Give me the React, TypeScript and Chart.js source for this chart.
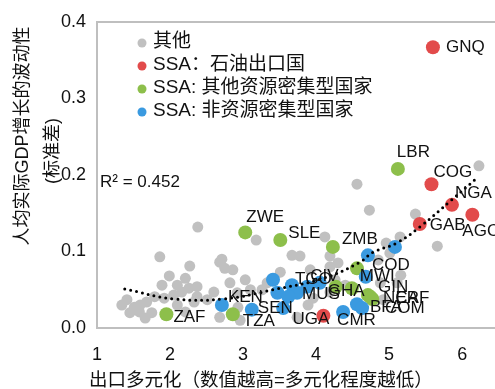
import React, { useEffect, useRef } from 'react';
import { Chart, registerables } from 'chart.js';

Chart.register(...registerables);

// ---- axis ticks ----
const xTicks = [1, 2, 3, 4, 5, 6];
const yTicks = [0, 0.1, 0.2, 0.3, 0.4];
const xMin = 1;
const xMax = 6.45;
const yMin = 0;
const yMax = 0.4;

// ---- series names ----
const seriesNames = ['其他', 'SSA：石油出口国', 'SSA: 其他资源密集型国家', 'SSA: 非资源密集型国家'];
const seriesColors = ['#c0c0c0', '#e24b4b', '#8dbf4b', '#3a9ae0'];

// ---- other (grey) ----
const otherX = [2.38, 4.56, 4.73, 5.36, 6.23, 5.66, 3.18, 4.12, 1.86, 2.71, 3.67, 3.78, 4.19, 5.15, 4.96, 4.85, 5.16, 4.88, 4.92,
  2.27, 2.68, 2.75, 1.99, 2.21, 1.89, 2.10, 2.26, 2.37, 2.60, 1.41, 1.51, 1.59, 1.68, 1.58, 1.79, 1.92, 2.05, 2.16, 2.37,
  2.51, 2.10, 2.33, 2.68, 1.75, 4.19, 2.86, 3.03, 2.82, 3.33, 2.92, 3.10, 3.26, 3.51, 3.92, 2.93, 3.74, 3.89, 3.96, 1.45,
  1.66, 4.30, 4.26, 5.01, 5.11, 2.21, 1.34, 2.96, 4.40, 4.19];
const otherY = [0.132, 0.188, 0.154, 0.149, 0.212, 0.107, 0.115, 0.119, 0.093, 0.090, 0.095, 0.094, 0.094, 0.119, 0.111, 0.089, 0.069, 0.059, 0.037,
  0.081, 0.086, 0.078, 0.068, 0.065, 0.056, 0.056, 0.052, 0.054, 0.047, 0.037, 0.027, 0.030, 0.034, 0.021, 0.041, 0.039, 0.043, 0.047, 0.041,
  0.037, 0.030, 0.034, 0.014, 0.020, 0.080, 0.076, 0.063, 0.059, 0.059, 0.046, 0.050, 0.050, 0.073, 0.076, 0.027, 0.014, 0.030, 0.039, 0.020,
  0.013, 0.085, 0.063, 0.098, 0.059, 0.021, 0.030, 0.010, 0.056, 0.047];

// ---- SSA oil exporters (red) ----
const oilCodes = ['GNQ', 'COG', 'NGA', 'AGO', 'GAB', 'UGA'];
const oilX = [5.60, 5.58, 5.86, 6.14, 5.42, 4.10];
const oilY = [0.367, 0.188, 0.161, 0.148, 0.136, 0.016];

// ---- SSA other resource-intensive (green) ----
const resCodes = ['LBR', 'ZWE', 'SLE', 'ZMB', 'ZAF', 'TZA', '', 'GHA', 'GIN', '', 'NER', 'CAF'];
const resX = [5.12, 3.03, 3.51, 4.23, 1.95, 2.86, 4.56, 4.27, 4.71, 4.49, 4.74, 4.77];
const resY = [0.208, 0.125, 0.115, 0.106, 0.018, 0.018, 0.078, 0.054, 0.043, 0.052, 0.041, 0.038];

// ---- SSA non resource-intensive (blue) ----
const nonResCodes = ['KEN', 'SEN', 'TGO', 'MUS', 'CIV', 'CMR', 'MWI', 'BFA', 'COM', 'COD', '', '', '', '', '', ''];
const nonResX = [2.71, 3.12, 3.67, 3.74, 3.88, 4.37, 4.68, 4.56, 4.63, 4.71, 5.08, 3.41, 3.47, 3.62, 3.55, 4.05];
const nonResY = [0.030, 0.024, 0.056, 0.046, 0.054, 0.021, 0.067, 0.031, 0.026, 0.095, 0.106, 0.063, 0.046, 0.041, 0.026, 0.059];

// ---- trend line ----
const trendX = [1.38, 2.05, 2.74, 3.41, 4.10, 4.60, 4.78, 5.10, 5.42, 5.85, 6.19];
const trendY = [0.051, 0.038, 0.038, 0.050, 0.065, 0.086, 0.099, 0.111, 0.132, 0.167, 0.195];
const r2Text = 'R² = 0.452';

// ---- titles ----
const yTitleLines = ['人均实际GDP增长的波动性', '(标准差)'];
const xTitle = '出口多元化（数值越高=多元化程度越低）';

// label offsets (style: text left-middle anchor relative to point, px)
const oilLabelOffsets = [[13, 0], [2, -12], [3, -12], [-10, 17], [10, 1], [-31, 4]];
const resLabelOffsets = [[-1, -17], [1, -15], [8, -7], [9, -8], [7, 3], [10, 7], [0, 0], [-8, 5], [10, -8], [0, 0], [13, 2], [23, -1]];
const nonResLabelOffsets = [[6, -8], [6, -1], [3, -6], [5, 2], [3, -10], [-6, 8], [-6, 0], [13, 3], [23, 0], [4, 10], [0, 0], [0, 0], [0, 0], [0, 0], [0, 0], [0, 0]];

const FONT = "'Liberation Sans', Arial, 'Noto Sans CJK SC', sans-serif";
const LABEL_FONT = `17px ${FONT}`;

const pts = (xs: number[], ys: number[]) => xs.map((x, i) => ({ x, y: ys[i] }));

export default function App() {
  const ref = useRef<HTMLCanvasElement | null>(null);

  useEffect(() => {
    if (!ref.current) return;

    const labelsPlugin = {
      id: 'pointLabels',
      afterDatasetsDraw(chart: any) {
        const ctx = chart.ctx;
        ctx.save();
        ctx.font = LABEL_FONT;
        ctx.fillStyle = '#111';
        ctx.textAlign = 'left';
        ctx.textBaseline = 'middle';
        chart.data.datasets.forEach((ds: any, di: number) => {
          if (!ds.codes) return;
          const meta = chart.getDatasetMeta(di);
          meta.data.forEach((el: any, i: number) => {
            const code = ds.codes[i];
            if (!code) return;
            const off = ds.labelOffsets[i];
            ctx.fillText(code, el.x + off[0], el.y + off[1]);
          });
        });
        ctx.restore();
      },
    };

    const decorPlugin = {
      id: 'decor',
      afterDraw(chart: any) {
        const ctx = chart.ctx;
        const a = chart.chartArea;
        ctx.save();
        // top frame line
        ctx.strokeStyle = '#bfbfbf';
        ctx.lineWidth = 2;
        ctx.beginPath();
        ctx.moveTo(a.left, a.top);
        ctx.lineTo(a.right, a.top);
        ctx.stroke();

        // legend
        const rows = [42, 65, 88, 111];
        ctx.textAlign = 'left';
        ctx.textBaseline = 'middle';
        ctx.font = `19px ${FONT}`;
        for (let i = 0; i < 4; i++) {
          const ds = chart.data.datasets[i];
          ctx.fillStyle = ds.backgroundColor;
          ctx.beginPath();
          ctx.arc(142, rows[i] + 1, 4.5, 0, Math.PI * 2);
          ctx.fill();
          ctx.fillStyle = '#111';
          ctx.fillText(ds.label, 153, rows[i]);
        }

        // R² text
        ctx.font = LABEL_FONT;
        ctx.fillText(r2Text, 100, 182);

        // x title
        ctx.font = `18.5px ${FONT}`;
        ctx.fillText(xTitle, 89, 381);

        // y title
        ctx.font = `18px ${FONT}`;
        ctx.textAlign = 'center';
        ctx.save();
        ctx.translate(23, 136);
        ctx.rotate(-Math.PI / 2);
        ctx.fillText(yTitleLines[0], 0, 0);
        ctx.restore();
        ctx.save();
        ctx.translate(53, 151);
        ctx.rotate(-Math.PI / 2);
        ctx.fillText(yTitleLines[1], 0, 0);
        ctx.restore();
        ctx.restore();
      },
    };

    const chart = new Chart(ref.current, {
      type: 'scatter',
      data: {
        datasets: [
          {
            label: seriesNames[0],
            data: pts(otherX, otherY),
            backgroundColor: seriesColors[0],
            borderWidth: 0,
            pointRadius: 5.5,
            order: 5,
          },
          {
            label: seriesNames[1],
            data: pts(oilX, oilY),
            backgroundColor: seriesColors[1],
            borderWidth: 0,
            pointRadius: 7,
            order: 4,
            codes: oilCodes,
            labelOffsets: oilLabelOffsets,
          } as any,
          {
            label: seriesNames[2],
            data: pts(resX, resY),
            backgroundColor: seriesColors[2],
            borderWidth: 0,
            pointRadius: 7,
            order: 3,
            codes: resCodes,
            labelOffsets: resLabelOffsets,
          } as any,
          {
            label: seriesNames[3],
            data: pts(nonResX, nonResY),
            backgroundColor: seriesColors[3],
            borderWidth: 0,
            pointRadius: 7,
            order: 2,
            codes: nonResCodes,
            labelOffsets: nonResLabelOffsets,
          } as any,
          {
            type: 'line',
            label: 'trend',
            data: pts(trendX, trendY),
            borderColor: '#000',
            borderWidth: 3,
            borderDash: [0, 6],
            borderCapStyle: 'round',
            pointRadius: 0,
            tension: 0.4,
            fill: false,
            showLine: true,
            order: 1,
          } as any,
        ],
      },
      options: {
        responsive: false,
        animation: false,
        devicePixelRatio: 1,
        layout: { autoPadding: false, padding: { top: 22, right: 0, bottom: 0, left: 0 } },
        plugins: {
          legend: { display: false },
          tooltip: { enabled: false },
          title: { display: false },
        },
        scales: {
          x: {
            type: 'linear',
            min: xMin,
            max: xMax,
            afterBuildTicks: (s: any) => {
              s.ticks = xTicks.map((v) => ({ value: v }));
            },
            afterFit: (s: any) => {
              s.height = 61;
              s.paddingLeft = 0;
              s.paddingRight = 0;
            },
            grid: { display: false, drawTicks: false },
            border: { display: true, color: '#bfbfbf', width: 2 },
            ticks: {
              font: { family: FONT, size: 18 },
              color: '#111',
              padding: 16,
              maxRotation: 0,
              callback: (v: any) => String(v),
            },
          },
          y: {
            type: 'linear',
            min: yMin,
            max: yMax,
            afterBuildTicks: (s: any) => {
              s.ticks = yTicks.map((v) => ({ value: v }));
            },
            afterFit: (s: any) => {
              s.width = 97;
            },
            grid: { display: false, drawTicks: false },
            border: { display: true, color: '#bfbfbf', width: 2 },
            ticks: {
              font: { family: FONT, size: 18 },
              color: '#111',
              padding: 11,
              callback: (v: any) => Number(v).toFixed(1),
            },
          },
        },
      },
      plugins: [labelsPlugin, decorPlugin],
    });

    return () => chart.destroy();
  }, []);

  return (
    <div style={{ position: 'fixed', left: 0, top: 0, width: 495, height: 389, background: '#fff', overflow: 'hidden' }}>
      <canvas ref={ref} width={495} height={389} style={{ display: 'block' }} />
    </div>
  );
}
